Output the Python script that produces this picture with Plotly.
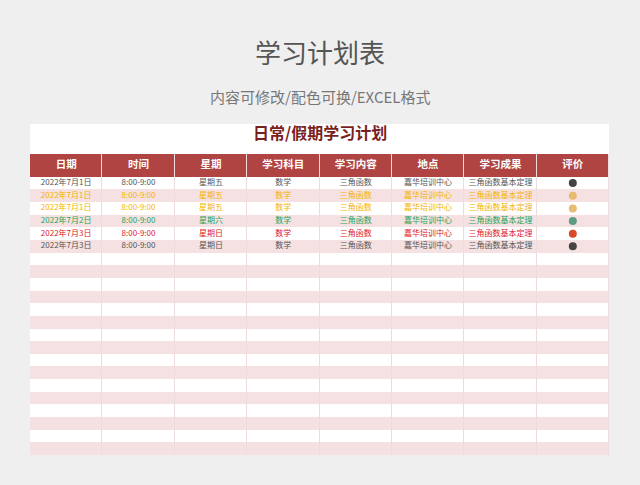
import plotly.graph_objects as go

headers = ["日期", "时间", "星期", "学习科目", "学习内容", "地点", "学习成果", "评价"]
dates = ["2022年7月1日", "2022年7月1日", "2022年7月1日", "2022年7月2日", "2022年7月3日", "2022年7月3日"]
times = ["8:00-9:00"] * 6
weekdays = ["星期五", "星期五", "星期五", "星期六", "星期日", "星期日"]
subjects = ["数学"] * 6
contents = ["三角函数"] * 6
places = ["嘉华培训中心"] * 6
results = ["三角函数基本定理"] * 6
text_colors = ["#555555", "#f4b400", "#f4b400", "#27a356", "#e0201f", "#555555"]
dot_colors = ["#444444", "#e8bb72", "#e8bb72", "#5c9c80", "#d84a2a", "#444444"]
n_rows = 22
header_h = 1.8  # header row height in body-row units

font = "Noto Sans CJK SC"
n_cols = len(headers)

# stripe grid: header row + body rows
y_edges = [0, header_h] + [header_h + i + 1 for i in range(n_rows)]
z = [[2] * n_cols] + [[i % 2] * n_cols for i in range(n_rows)]

fig = go.Figure()
fig.add_trace(go.Heatmap(
    z=z, x=list(range(n_cols + 1)), y=y_edges, xgap=1, ygap=0,
    colorscale=[[0, "#ffffff"], [0.5, "#f5e1e1"], [1, "#b04442"]],
    zmin=0, zmax=2, showscale=False, hoverinfo="skip"))

# header text
fig.add_trace(go.Scatter(
    x=[i + 0.5 for i in range(n_cols)], y=[header_h / 2] * n_cols,
    text=["<b>%s</b>" % h for h in headers], mode="text",
    textfont=dict(color="white", size=10.5, family=font), hoverinfo="skip"))

# body text
cols = [dates, times, weekdays, subjects, contents, places, results]
for r in range(len(dates)):
    fig.add_trace(go.Scatter(
        x=[i + 0.5 for i in range(len(cols))], y=[header_h + r + 0.5] * len(cols),
        text=[c[r] for c in cols], mode="text",
        textfont=dict(color=text_colors[r], size=8, family=font), hoverinfo="skip"))

# evaluation dots
fig.add_trace(go.Scatter(
    x=[n_cols - 0.5] * len(dates), y=[header_h + r + 0.5 for r in range(len(dates))],
    mode="markers", marker=dict(color=dot_colors, size=8), hoverinfo="skip"))

fig.update_xaxes(range=[0, n_cols], domain=[30 / 640, 609 / 640], visible=False, fixedrange=True)
fig.update_yaxes(range=[y_edges[-1], 0], domain=[30 / 485, 1 - 154 / 485], visible=False, fixedrange=True)

fig.add_shape(type="rect", xref="paper", yref="paper", x0=30 / 640, x1=609 / 640,
              y0=1 - 154 / 485, y1=1 - 124 / 485, fillcolor="white", line_width=0, layer="below")
fig.add_annotation(text="<b>日常/假期学习计划</b>", x=0.5, y=1 - 132 / 485, xref="paper", yref="paper",
                   yanchor="middle", showarrow=False, font=dict(size=16, color="#7a1e1e", family=font))
fig.add_annotation(text="学习计划表", x=0.5, y=1 - 52 / 485, xref="paper", yref="paper",
                   yanchor="middle", showarrow=False, font=dict(size=26, color="#555555", family=font))
fig.add_annotation(text="内容可修改/配色可换/EXCEL格式", x=0.5, y=1 - 97 / 485, xref="paper", yref="paper",
                   yanchor="middle", showarrow=False, font=dict(size=15, color="#777777", family=font))

fig.update_layout(width=640, height=485, margin=dict(l=0, r=0, t=0, b=0),
                  paper_bgcolor="#efefef", plot_bgcolor="#ecdcdc", showlegend=False)
fig.write_html("out.html", config={"displayModeBar": False},
               post_script="document.body.style.margin='0';")
